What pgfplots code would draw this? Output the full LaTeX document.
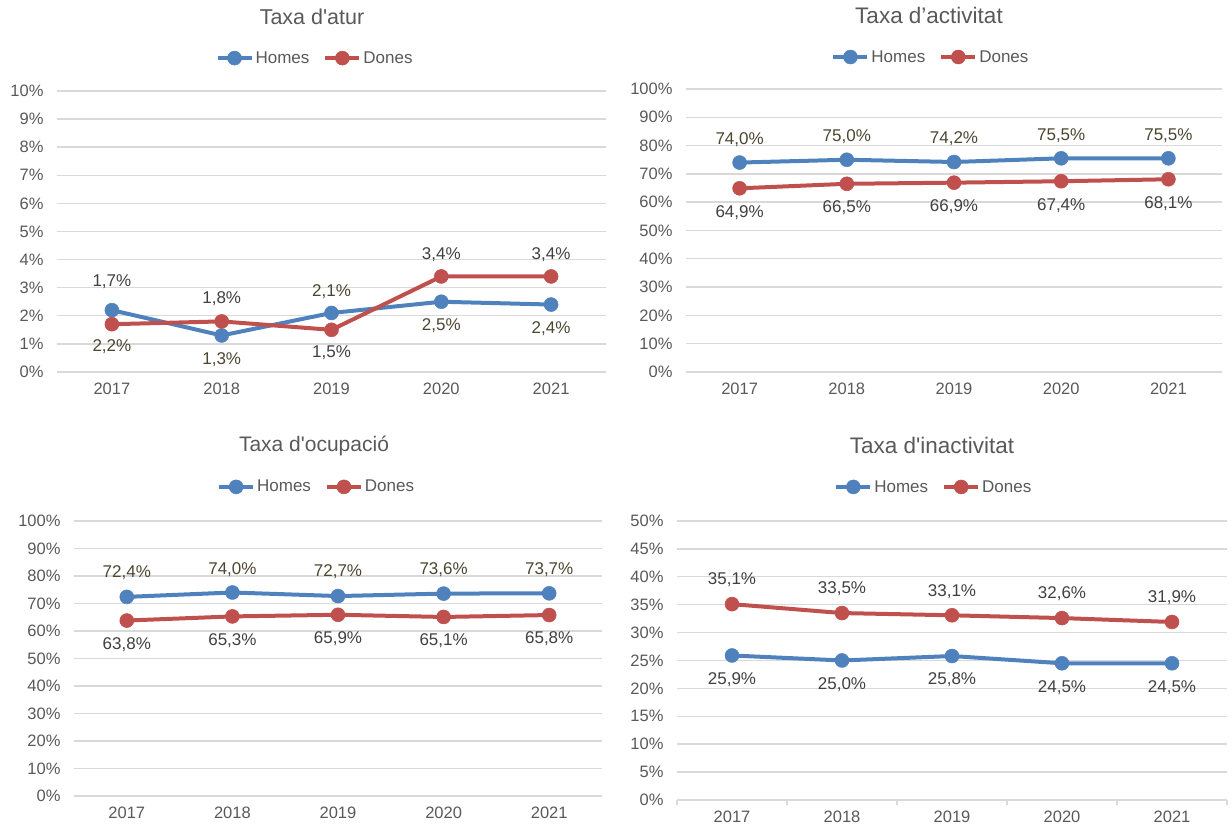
\documentclass[border=0pt]{standalone}
\usepackage{fontspec}
\setmainfont{Liberation Sans}
\usepackage{pgfplots}
\usepackage{pgfplotstable}
\pgfplotsset{compat=1.18}

\definecolor{homes}{HTML}{4F81BD}
\definecolor{dones}{HTML}{C0504D}
\definecolor{gridc}{HTML}{D9D9D9}
\definecolor{txt}{HTML}{595959}
\definecolor{labh}{HTML}{4A4630}
\definecolor{labd}{HTML}{404040}

% columns: x, homes, homes label shift (pt), dones, dones label shift (pt)
\pgfplotstableread{
x h hdy d ddy
0 2.2 -36 1.7 43
1 1.3 -24 1.8 23
2 2.1 21 1.5 -23
3 2.5 -24 3.4 22
4 2.4 -24 3.4 22
}\atur
\pgfplotstableread{
x h hdy d ddy
0 74.0 23 64.9 -24
1 75.0 23 66.5 -24
2 74.2 23 66.9 -24
3 75.5 23 67.4 -24
4 75.5 23 68.1 -24
}\activitat
\pgfplotstableread{
x h hdy d ddy
0 72.4 24 63.8 -24
1 74.0 23 65.3 -24
2 72.7 24 65.9 -24
3 73.6 24 65.1 -24
4 73.7 24 65.8 -24
}\ocupacio
\pgfplotstableread{
x h hdy d ddy
0 25.9 -24 35.1 24
1 25.0 -24 33.5 24
2 25.8 -24 33.1 24
3 24.5 -24 32.6 24
4 24.5 -24 31.9 24
}\inactivitat

\pgfplotsset{
  /pgf/number format/assume math mode=true,
  panel/.style={
    scale only axis, clip=false,
    xmin=-0.5, xmax=4.5, ymin=0,
    xtick={0,...,4}, xticklabels={2017,2018,2019,2020,2021},
    axis line style={draw=none},
    major tick length=0pt,
    ymajorgrids, major grid style={draw=gridc, line width=1.4pt},
    tick label style={font=\fontsize{16.5}{19}\selectfont, text=txt},
    yticklabel={\pgfmathprintnumber{\tick}\%},
    yticklabel style={xshift=-10pt},
    xticklabel style={yshift=-7pt},
    legend columns=2,
    legend image code/.code={\draw[mark repeat=2,mark phase=2,##1]
      plot coordinates {(0pt,0pt) (17pt,0pt) (34pt,0pt)};},
    legend style={draw=none, fill=none, anchor=center, inner sep=0pt,
      font=\fontsize{17}{20}\selectfont, text=txt,
      /tikz/every even column/.append style={column sep=12pt}},
  },
  ser/.style={line width=4pt, mark=*, mark size=7pt,
    mark options={solid, line width=0.5pt},
    point meta=y,
    nodes near coords={\pgfmathprintnumber[fixed,fixed zerofill,precision=1,use comma]{\pgfplotspointmeta}\%},
    every node near coord/.append style={anchor=center, yshift=\ldy pt,
      font=\fontsize{17}{20}\selectfont}},
  hser/.style={ser, color=homes, visualization depends on={\thisrow{hdy} \as \ldy},
    every node near coord/.append style={text=#1}},
  dser/.style={ser, color=dones, visualization depends on={\thisrow{ddy} \as \ldy},
    every node near coord/.append style={text=#1}},
}

\begin{document}
\begin{tikzpicture}
\useasboundingbox (0,0) rectangle (1232pt,829pt);

% Taxa d'atur
\begin{axis}[panel, at={(57pt,457pt)}, anchor=south west,
  width=549pt, height=281pt, ymax=10, ytick={0,1,...,10},
  legend style={at={(axis description cs:0.470,1.117)}}]
\addplot[hser=labh] table[x=x,y=h] {\atur};
\addlegendentry{Homes}
\addplot[dser=labd] table[x=x,y=d] {\atur};
\addlegendentry{Dones}
\end{axis}

% Taxa d'activitat
\begin{axis}[panel, at={(686pt,457pt)}, anchor=south west,
  width=536pt, height=283pt, ymax=100, ytick={0,10,...,100},
  legend style={at={(axis description cs:0.457,1.113)}}]
\addplot[hser=labh] table[x=x,y=h] {\activitat};
\addlegendentry{Homes}
\addplot[dser=labd] table[x=x,y=d] {\activitat};
\addlegendentry{Dones}
\end{axis}

% Taxa d'ocupacio
\begin{axis}[panel, at={(74pt,33pt)}, anchor=south west,
  width=528pt, height=275pt, ymax=100, ytick={0,10,...,100},
  legend style={at={(axis description cs:0.4595,1.124)}}]
\addplot[hser=labh] table[x=x,y=h] {\ocupacio};
\addlegendentry{Homes}
\addplot[dser=labd] table[x=x,y=d] {\ocupacio};
\addlegendentry{Dones}
\end{axis}

% Taxa d'inactivitat
\begin{axis}[panel, at={(677pt,29pt)}, anchor=south west,
  width=550pt, height=279pt, ymax=50, ytick={0,5,...,50},
  minor xtick={-0.5,0.5,...,4.5}, minor tick length=5pt, tick align=outside,
  xtick pos=bottom, ytick pos=left,
  minor tick style={draw=gridc, line width=1.4pt},
  legend style={at={(axis description cs:0.467,1.122)}}]
\addplot[hser=labd] table[x=x,y=h] {\inactivitat};
\addlegendentry{Homes}
\addplot[dser=labd] table[x=x,y=d] {\inactivitat};
\addlegendentry{Dones}
\end{axis}

\node[font=\fontsize{21.5}{24}\selectfont, text=txt] at (312pt,812pt) {Taxa d\textquotesingle atur};
\node[font=\fontsize{22.5}{25}\selectfont, text=txt] at (929pt,814pt) {Taxa d’activitat};
\node[font=\fontsize{21}{24}\selectfont, text=txt] at (314pt,383pt) {Taxa d\textquotesingle ocupació};
\node[font=\fontsize{22.5}{25}\selectfont, text=txt] at (932pt,384pt) {Taxa d\textquotesingle inactivitat};
\end{tikzpicture}
\end{document}
